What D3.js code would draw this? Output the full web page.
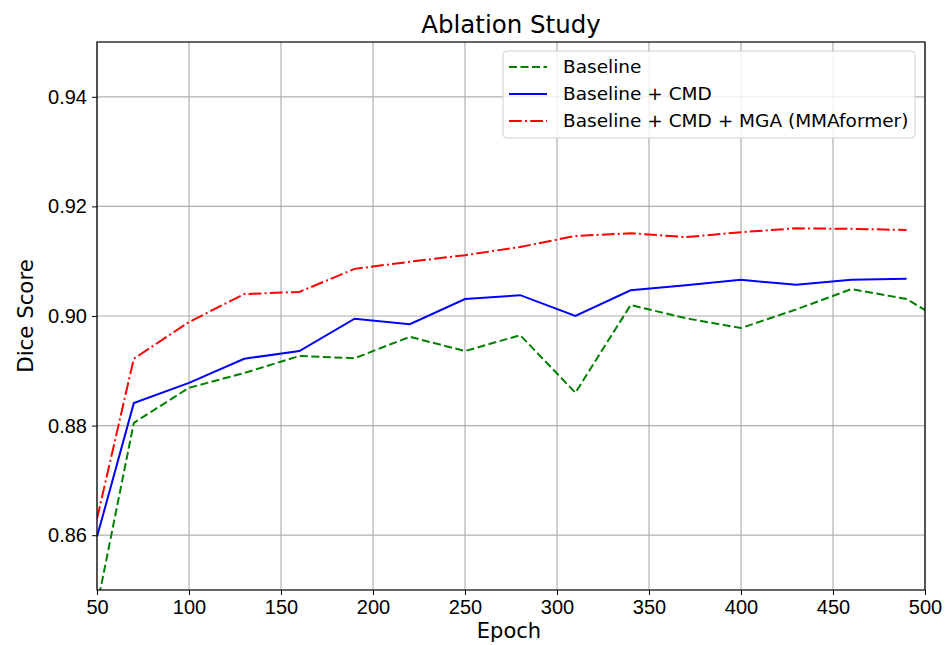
<!DOCTYPE html>
<html>
<head>
<meta charset="utf-8">
<script src="https://cdn.jsdelivr.net/npm/d3@7"></script>
<style>
  body { margin: 0; background: #fff; }
  svg { font-family: "DejaVu Sans", sans-serif; }
</style>
</head>
<body>
<svg width="950" height="645"></svg>
<script>
// epochs and Dice scores
const epochs = [50, 70, 100, 130, 160, 190, 220, 250, 280, 310, 340, 370, 400, 430, 460, 490];
const baselineEpochs = [50, 70, 100, 130, 160, 190, 220, 250, 280, 310, 340, 370, 400, 430, 460, 490, 520];
const baseline = [0.847, 0.8805, 0.8869, 0.8896, 0.8927, 0.8923, 0.8962, 0.8936, 0.8965, 0.886, 0.902, 0.8996, 0.8978, 0.9012, 0.9049, 0.9031, 0.8971];
const baselineCmd = [0.8597, 0.8841, 0.8878, 0.8922, 0.8936, 0.8995, 0.8985, 0.9031, 0.9038, 0.9, 0.9047, 0.9056, 0.9066, 0.9057, 0.9066, 0.9068];
const mmaformer = [0.863, 0.8922, 0.8989, 0.904, 0.9044, 0.9086, 0.9099, 0.9111, 0.9126, 0.9146, 0.9151, 0.9144, 0.9153, 0.916, 0.9159, 0.9157];
const xTicks = [50, 100, 150, 200, 250, 300, 350, 400, 450, 500];
const yTicks = [0.86, 0.88, 0.90, 0.92, 0.94];

const margin = { top: 42, right: 25, bottom: 55, left: 97 },
  width = 950 - margin.left - margin.right,
  height = 645 - margin.top - margin.bottom;

const svg = d3.select("svg");
const g = svg.append("g")
  .attr("transform", "translate(" + margin.left + "," + margin.top + ")");

const x = d3.scaleLinear().domain([50, 500]).range([0, width]);
const y = d3.scaleLinear().domain([0.85, 0.95]).range([height, 0]);

g.append("clipPath").attr("id", "clip")
  .append("rect").attr("width", width).attr("height", height);

// grid
g.append("g").selectAll("line").data(xTicks).enter().append("line")
  .attr("x1", d => x(d)).attr("x2", d => x(d))
  .attr("y1", 0).attr("y2", height)
  .attr("stroke", "#b0b0b0").attr("stroke-width", 1.2);
g.append("g").selectAll("line").data(yTicks).enter().append("line")
  .attr("x1", 0).attr("x2", width)
  .attr("y1", d => y(d)).attr("y2", d => y(d))
  .attr("stroke", "#b0b0b0").attr("stroke-width", 1.2);

const series = [
  { name: "Baseline", xs: baselineEpochs, values: baseline, color: "#008000", dash: "8,3.5" },
  { name: "Baseline + CMD", xs: epochs, values: baselineCmd, color: "#0000ff", dash: null },
  { name: "Baseline + CMD + MGA (MMAformer)", xs: epochs, values: mmaformer, color: "#ff0000", dash: "12.8,3.2,2,3.2" },
];

const line = d3.line().x(d => x(d[0])).y(d => y(d[1]));

g.append("g").attr("clip-path", "url(#clip)")
  .selectAll("path").data(series).enter().append("path")
  .attr("d", s => line(s.xs.map((e, i) => [e, s.values[i]])))
  .attr("fill", "none")
  .attr("stroke", s => s.color)
  .attr("stroke-width", 2)
  .attr("stroke-dasharray", s => s.dash);

// axes
const xAxis = d3.axisBottom(x).tickValues(xTicks).tickSize(5).tickPadding(5).tickSizeOuter(0);
const yAxis = d3.axisLeft(y).tickValues(yTicks).tickFormat(d3.format(".2f")).tickSize(5).tickPadding(5).tickSizeOuter(0);

g.append("g").attr("class", "x axis")
  .attr("transform", "translate(0," + height + ")")
  .call(xAxis);
g.append("g").attr("class", "y axis").call(yAxis);

g.selectAll(".axis text").style("font-size", "20px").attr("fill", "#000");
g.selectAll(".axis line").attr("stroke", "#000");
g.selectAll(".axis .domain").remove();

// frame
g.append("rect").attr("width", width).attr("height", height)
  .attr("fill", "none").attr("stroke", "#000").attr("stroke-width", 1.2);

// labels
svg.append("text")
  .attr("x", margin.left + width / 2).attr("y", 33)
  .attr("text-anchor", "middle").style("font-size", "24.5px")
  .text("Ablation Study");
svg.append("text")
  .attr("x", margin.left + width / 2 - 2).attr("y", 638)
  .attr("text-anchor", "middle").style("font-size", "21px")
  .text("Epoch");
svg.append("text")
  .attr("transform", "translate(33," + (margin.top + height / 2) + ") rotate(-90)")
  .attr("text-anchor", "middle").style("font-size", "21.3px")
  .text("Dice Score");

// legend
const legend = svg.append("g").attr("transform", "translate(503,51)");
legend.append("rect")
  .attr("width", 412).attr("height", 87).attr("rx", 4)
  .attr("fill", "#fff").attr("fill-opacity", 0.8)
  .attr("stroke", "#d0d0d0").attr("stroke-width", 1);
const item = legend.selectAll(".legend-item").data(series).enter().append("g")
  .attr("class", "legend-item")
  .attr("transform", (d, i) => "translate(0," + (16 + i * 27) + ")");
item.append("line")
  .attr("x1", 6).attr("x2", 44)
  .attr("stroke", d => d.color).attr("stroke-width", 2)
  .attr("stroke-dasharray", d => d.dash);
item.append("text")
  .attr("x", 60).attr("dy", "0.35em")
  .style("font-size", "18.5px")
  .text(d => d.name);
</script>
</body>
</html>
